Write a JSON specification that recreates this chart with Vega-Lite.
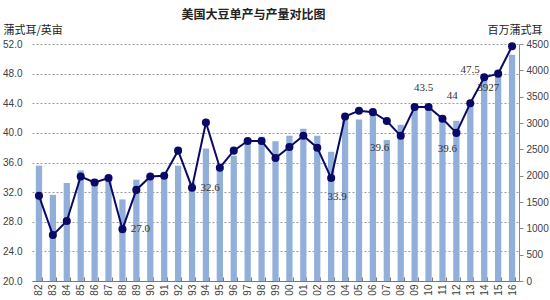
{
  "$schema": "https://vega.github.io/schema/vega-lite/v6.json",
  "width": 487,
  "height": 237,
  "autosize": {"type": "none"},
  "padding": {"left": 32, "top": 44, "right": 31, "bottom": 19},
  "background": "white",
  "config": {"view": {"stroke": null}, "font": "Liberation Sans"},
  "title": {"text": "美国大豆单产与产量对比图", "font": "Noto Sans CJK SC", "fontSize": 12, "fontWeight": "bold", "color": "#222222", "anchor": "middle", "dx": -22, "offset": 2},
  "data": {"values": [
    {"yr": "82", "yield": 31.5, "prod": 2190},
    {"yr": "83", "yield": 26.2, "prod": 1636},
    {"yr": "84", "yield": 28.1, "prod": 1861},
    {"yr": "85", "yield": 34.1, "prod": 2099},
    {"yr": "86", "yield": 33.3, "prod": 1940},
    {"yr": "87", "yield": 33.9, "prod": 1938},
    {"yr": "88", "yield": 27.0, "prod": 1549, "note": "27.0"},
    {"yr": "89", "yield": 32.3, "prod": 1924},
    {"yr": "90", "yield": 34.1, "prod": 1926},
    {"yr": "91", "yield": 34.2, "prod": 1987},
    {"yr": "92", "yield": 37.6, "prod": 2190},
    {"yr": "93", "yield": 32.6, "prod": 1870, "note": "32.6"},
    {"yr": "94", "yield": 41.4, "prod": 2515},
    {"yr": "95", "yield": 35.3, "prod": 2174},
    {"yr": "96", "yield": 37.6, "prod": 2380},
    {"yr": "97", "yield": 38.9, "prod": 2689},
    {"yr": "98", "yield": 38.9, "prod": 2741},
    {"yr": "99", "yield": 36.6, "prod": 2654},
    {"yr": "00", "yield": 38.1, "prod": 2758},
    {"yr": "01", "yield": 39.6, "prod": 2891},
    {"yr": "02", "yield": 38.0, "prod": 2756},
    {"yr": "03", "yield": 33.9, "prod": 2454, "note": "33.9"},
    {"yr": "04", "yield": 42.2, "prod": 3124},
    {"yr": "05", "yield": 43.0, "prod": 3068},
    {"yr": "06", "yield": 42.8, "prod": 3197},
    {"yr": "07", "yield": 41.6, "prod": 2677},
    {"yr": "08", "yield": 39.6, "prod": 2967, "note": "39.6"},
    {"yr": "09", "yield": 43.5, "prod": 3359},
    {"yr": "10", "yield": 43.5, "prod": 3329, "note": "43.5"},
    {"yr": "11", "yield": 41.9, "prod": 3097},
    {"yr": "12", "yield": 40.0, "prod": 3042, "note": "39.6"},
    {"yr": "13", "yield": 44.0, "prod": 3358, "note": "44"},
    {"yr": "14", "yield": 47.5, "prod": 3927, "note": "47.5"},
    {"yr": "15", "yield": 48.0, "prod": 3926, "note": "3927"},
    {"yr": "16", "yield": 51.7, "prod": 4296}
  ]},
  "resolve": {"scale": {"y": "independent"}},
  "layer": [
    {
      "mark": {"type": "bar", "color": "#92afda"},
      "encoding": {
        "x": {"field": "yr", "type": "ordinal", "sort": null,
          "scale": {"paddingInner": 0.55, "paddingOuter": 0.275},
          "axis": {"title": null, "labelAngle": 270, "labelFontSize": 10, "labelColor": "#404040", "labelPadding": 7, "tickBand": "extent", "tickSize": -4, "tickColor": "#777777", "domainColor": "#777777", "grid": false}},
        "y": {"field": "prod", "type": "quantitative",
          "scale": {"domain": [0, 4500], "nice": false, "zero": true},
          "axis": {"orient": "right", "values": [0, 500, 1000, 1500, 2000, 2500, 3000, 3500, 4000, 4500], "format": "d", "grid": false, "labelFontSize": 10, "labelColor": "#404040", "tickSize": 4, "tickColor": "#888888", "domainColor": "#888888", "labelPadding": 3,
            "title": "百万蒲式耳", "titleFont": "Noto Sans CJK SC", "titleFontSize": 11, "titleFontWeight": "normal", "titleColor": "#222222", "titleAngle": 0, "titleAlign": "left", "titleBaseline": "middle", "titleX": -32, "titleY": -14}}
      }
    },
    {
      "encoding": {
        "x": {"field": "yr", "type": "ordinal", "sort": null},
        "y": {"field": "yield", "type": "quantitative",
          "scale": {"domain": [20, 52], "nice": false, "zero": false},
          "axis": {"orient": "left", "values": [20, 24, 28, 32, 36, 40, 44, 48, 52], "format": ".1f", "grid": true, "gridColor": "#9a9a9a", "gridDash": [2, 2], "gridWidth": 1, "domain": false, "ticks": false, "labelPadding": 10, "labelFontSize": 10, "labelColor": "#404040",
            "title": "蒲式耳/英亩", "titleFont": "Noto Sans CJK SC", "titleFontSize": 11, "titleFontWeight": "normal", "titleColor": "#222222", "titleAngle": 0, "titleAlign": "left", "titleBaseline": "middle", "titleX": -29, "titleY": -14}}
      },
      "layer": [
        {"mark": {"type": "line", "color": "#0a0a66", "strokeWidth": 2}},
        {"mark": {"type": "point", "filled": true, "color": "#0a0a66", "opacity": 1, "size": 65}},
        {"transform": [{"filter": "datum.yr == '88' || datum.yr == '93'"}],
         "mark": {"type": "text", "dx": 18, "dy": 0, "font": "Liberation Serif", "fontSize": 11, "color": "#333333"},
         "encoding": {"text": {"field": "note"}}},
        {"transform": [{"filter": "datum.yr == '03'"}],
         "mark": {"type": "text", "dx": 6, "dy": 19, "font": "Liberation Serif", "fontSize": 11, "color": "#333333"},
         "encoding": {"text": {"field": "note"}}},
        {"transform": [{"filter": "datum.yr == '08'"}],
         "mark": {"type": "text", "dx": -21, "dy": 12, "font": "Liberation Serif", "fontSize": 11, "color": "#333333"},
         "encoding": {"text": {"field": "note"}}},
        {"transform": [{"filter": "datum.yr == '12'"}],
         "mark": {"type": "text", "dx": -9, "dy": 16, "font": "Liberation Serif", "fontSize": 11, "color": "#333333"},
         "encoding": {"text": {"field": "note"}}},
        {"transform": [{"filter": "datum.yr == '10'"}],
         "mark": {"type": "text", "dx": -5, "dy": -19, "font": "Liberation Serif", "fontSize": 11, "color": "#333333"},
         "encoding": {"text": {"field": "note"}}},
        {"transform": [{"filter": "datum.yr == '13'"}],
         "mark": {"type": "text", "dx": -18, "dy": -7, "font": "Liberation Serif", "fontSize": 11, "color": "#333333"},
         "encoding": {"text": {"field": "note"}}},
        {"transform": [{"filter": "datum.yr == '14'"}],
         "mark": {"type": "text", "dx": -14, "dy": -7, "font": "Liberation Serif", "fontSize": 11, "color": "#333333"},
         "encoding": {"text": {"field": "note"}}},
        {"transform": [{"filter": "datum.yr == '15'"}],
         "mark": {"type": "text", "dx": -10, "dy": 14, "font": "Liberation Serif", "fontSize": 11, "color": "#333333"},
         "encoding": {"text": {"field": "note"}}}
      ]
    }
  ]
}
